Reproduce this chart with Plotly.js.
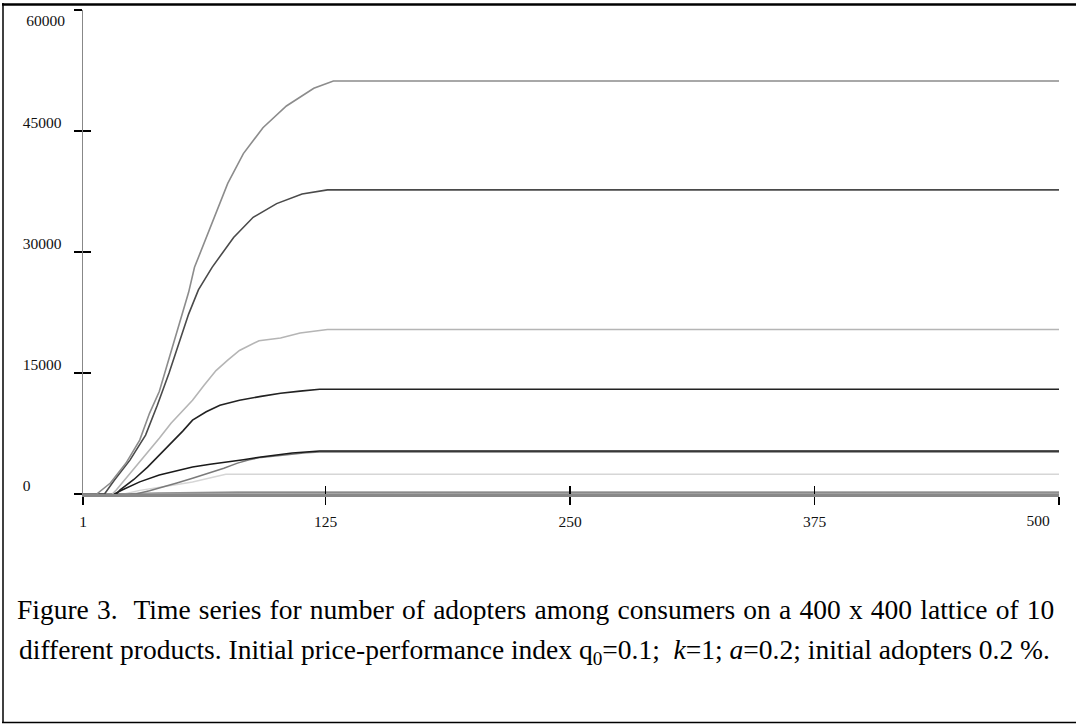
<!DOCTYPE html>
<html>
<head>
<meta charset="utf-8">
<script src="https://cdn.plot.ly/plotly-3.0.1.min.js"></script>
<style>
html,body{margin:0;padding:0;background:#fff;}
#chart{width:1076px;height:726px;}
</style>
</head>
<body>
<div id="chart"></div>
<script>
// ---------- data ----------
const xTickVals = [1, 125, 250, 375, 500];
const xTickText = ["1", "125", "250", "375", "500"];
const yTickVals = [0, 15000, 30000, 45000, 60000];
const yTickText = ["0", "15000", "30000", "45000", "60000"];

const aSteps = [1, 8, 15, 23, 30, 35, 40, 45, 50, 55, 58, 66, 75, 83, 93, 105, 119, 129, 500];
const aVals  = [0, 0, 1360, 3830, 6680, 10000, 12700, 16700, 20900, 25000, 28100, 33000, 38500, 42200, 45400, 48100, 50300, 51200, 51200];

const bSteps = [1, 12, 17, 25, 33, 39, 45, 50, 55, 60, 67, 78, 88, 100, 113, 126, 500];
const bVals  = [0, 0, 1700, 4200, 7300, 11000, 15000, 18800, 22300, 25300, 28100, 31800, 34300, 36000, 37200, 37700, 37700];

const cSteps = [1, 16, 18, 25, 32, 40, 46, 52, 57, 63, 69, 75, 81, 91, 102, 112, 126, 500];
const cVals  = [0, 0, 500, 2500, 4570, 6900, 8780, 10300, 11620, 13500, 15300, 16600, 17800, 19000, 19330, 19950, 20400, 20400];

const dSteps = [1, 18, 20, 27, 34, 40, 46, 52, 57, 64, 71, 81, 92, 102, 112, 122, 500];
const dVals  = [0, 0, 500, 1800, 3340, 4800, 6310, 7800, 9150, 10200, 11010, 11620, 12100, 12490, 12750, 12980, 12980];

const e1Steps = [1, 17, 21, 30, 40, 50, 57, 66, 75, 83, 92, 100, 108, 115, 122, 500];
const e1Vals  = [0, 0, 500, 1500, 2350, 2950, 3340, 3700, 3960, 4250, 4580, 4830, 5070, 5200, 5320, 5320];

const e2Steps = [1, 28, 35, 42, 49, 57, 66, 73, 80, 86, 92, 100, 108, 115, 122, 500];
const e2Vals  = [0, 0, 400, 850, 1360, 1950, 2600, 3200, 3830, 4250, 4540, 4760, 4980, 5100, 5200, 5200];

const fSteps = [1, 22, 30, 40, 50, 57, 64, 70, 74, 500];
const fVals  = [0, 0, 450, 870, 1200, 1480, 1850, 2230, 2450, 2450];

const g1Steps = [1, 20, 40, 60, 80, 500];
const g1Vals  = [0, 0, 120, 200, 250, 250];
const g2Steps = [1, 25, 45, 65, 85, 500];
const g2Vals  = [0, 0, 60, 110, 150, 150];
const g3Steps = [1, 30, 50, 70, 90, 500];
const g3Vals  = [0, 0, 20, 45, 60, 60];

const captionLine1 = "Figure 3.  Time series for number of adopters among consumers on a 400 x 400 lattice of 10";
const captionLine2 = "different products. Initial price-performance index q<sub>0</sub>=0.1;  <i>k</i>=1; <i>a</i>=0.2; initial adopters 0.2 %.";

// ---------- layout helpers ----------
const W = 1076, H = 726;
const M = {l: 83, r: 17, t: 10, b: 232};
const plotW = W - M.l - M.r, plotH = H - M.t - M.b;
const px2x = p => (p - M.l) / plotW;
const py2y = p => (H - M.b - p) / plotH;
const serif = "Liberation Serif, Times New Roman, serif";
const NB = "\u00A0";

function series(xs, ys, color, width, xa, ya) {
  return {x: xs, y: ys, type: "scatter", mode: "lines", hoverinfo: "skip",
          xaxis: xa || "x", yaxis: ya || "y",
          line: {color: color, width: width}, showlegend: false};
}

const traces = [
  series(g1Steps, g1Vals, "#999999", 1.5),
  series(g2Steps, g2Vals, "#8a8a8a", 1.5),
  series(g3Steps, g3Vals, "#a0a0a0", 1.5),
  series(fSteps, fVals, "#d6d6d6", 1.5),
  series(e2Steps, e2Vals, "#7a7a7a", 1.5),
  series(e1Steps, e1Vals, "#1a1a1a", 1.5),
  series(dSteps, dVals, "#222222", 1.6),
  series(cSteps, cVals, "#b5b5b5", 1.6),
  series(bSteps, bVals, "#4a4a4a", 1.6, "x", "y2"),
  series(aSteps, aVals, "#8c8c8c", 1.6, "x2", "y")
];

const tickFont = {family: serif, size: 15.5, color: "#111"};
const last = arr => arr.length - 1;

// y labels are left-aligned in the reference: pad the short "0" label
const yMainText = yTickText.map((t, i) => i === last(yTickText) ? "" :
  (t.length < 5 ? t + NB.repeat(2 * (5 - t.length)) : t));

const layout = {
  width: W, height: H,
  margin: M,
  paper_bgcolor: "#fff", plot_bgcolor: "rgba(0,0,0,0)",
  showlegend: false,
  xaxis: {
    range: [1, 500], tickmode: "array", tickvals: xTickVals,
    ticktext: xTickText.map((t, i) => i === last(xTickText) ? "" : t),
    ticks: "outside", ticklen: 8, tickwidth: 1.5, tickcolor: "#000",
    showline: true, linecolor: "#888", linewidth: 2.5,
    showgrid: false, zeroline: false, tickfont: tickFont,
    ticklabelstandoff: 4
  },
  xaxis2: {
    overlaying: "x", anchor: "y", side: "bottom",
    range: [1, 500], tickmode: "array", tickvals: xTickVals,
    ticktext: xTickText.map((t, i) => i === last(xTickText) ? t : ""),
    ticks: "inside", ticklen: 8, tickwidth: 1.5, tickcolor: "#000",
    showline: false, showgrid: false, zeroline: false, tickfont: tickFont,
    ticklabelstandoff: 15, ticklabelshift: -21
  },
  yaxis: {
    range: [0, 60000], tickmode: "array", tickvals: yTickVals,
    ticktext: yMainText,
    ticks: "outside", ticklen: 8, tickwidth: 1.5, tickcolor: "#000",
    showline: true, linecolor: "#888", linewidth: 1.5,
    showgrid: false, zeroline: false, tickfont: tickFont,
    ticklabelstandoff: 9, ticklabelshift: -8
  },
  yaxis2: {
    overlaying: "y", anchor: "x", side: "left",
    range: [0, 60000], tickmode: "array", tickvals: yTickVals,
    ticktext: yTickText.map((t, i) => i === last(yTickText) ? t : ""),
    ticks: "inside", ticklen: 8, tickwidth: 1.5, tickcolor: "#000",
    showline: false, showgrid: false, zeroline: false, tickfont: tickFont,
    ticklabelstandoff: 17, ticklabelshift: 11
  },
  annotations: [
    {text: captionLine1, xref: "paper", yref: "paper", x: px2x(17), y: py2y(609),
     xanchor: "left", yanchor: "middle", showarrow: false,
     font: {family: serif, size: 27.5, color: "#000"}},
    {text: captionLine2, xref: "paper", yref: "paper", x: px2x(17), y: py2y(651),
     xanchor: "left", yanchor: "middle", showarrow: false,
     font: {family: serif, size: 27.5, color: "#000"}}
  ],
  shapes: [
    {type: "line", xref: "paper", yref: "paper", x0: px2x(2), x1: px2x(1080), y0: py2y(4.5), y1: py2y(4.5),
     line: {color: "#000", width: 2.5}},
    {type: "line", xref: "paper", yref: "paper", x0: px2x(3), x1: px2x(3), y0: py2y(3), y1: py2y(723),
     line: {color: "#000", width: 1.5}},
    {type: "line", xref: "paper", yref: "paper", x0: px2x(2), x1: px2x(1080), y0: py2y(722.5), y1: py2y(722.5),
     line: {color: "#000", width: 1.5}}
  ]
};

Plotly.newPlot("chart", traces, layout, {staticPlot: true, displayModeBar: false}).then(gd => {
  // first caption line is justified across the full width in the reference
  const texts = gd.querySelectorAll(".annotation-text");
  if (texts.length) {
    const t = texts[0];
    const len = t.getComputedTextLength();
    const target = 1053 - 17;
    const spaces = (t.textContent.match(/ +/g) || []).length;
    if (len > 0 && spaces > 0) {
      t.style.wordSpacing = ((target - len) / spaces).toFixed(2) + "px";
      const r = t.getBoundingClientRect();
      const gr = gd.getBoundingClientRect();
      const dx = 17 - (r.left - gr.left);
      const prev = t.getAttribute("transform") || "";
      t.setAttribute("transform", "translate(" + dx.toFixed(2) + ",0) " + prev);
    }
  }
});
</script>
</body>
</html>
